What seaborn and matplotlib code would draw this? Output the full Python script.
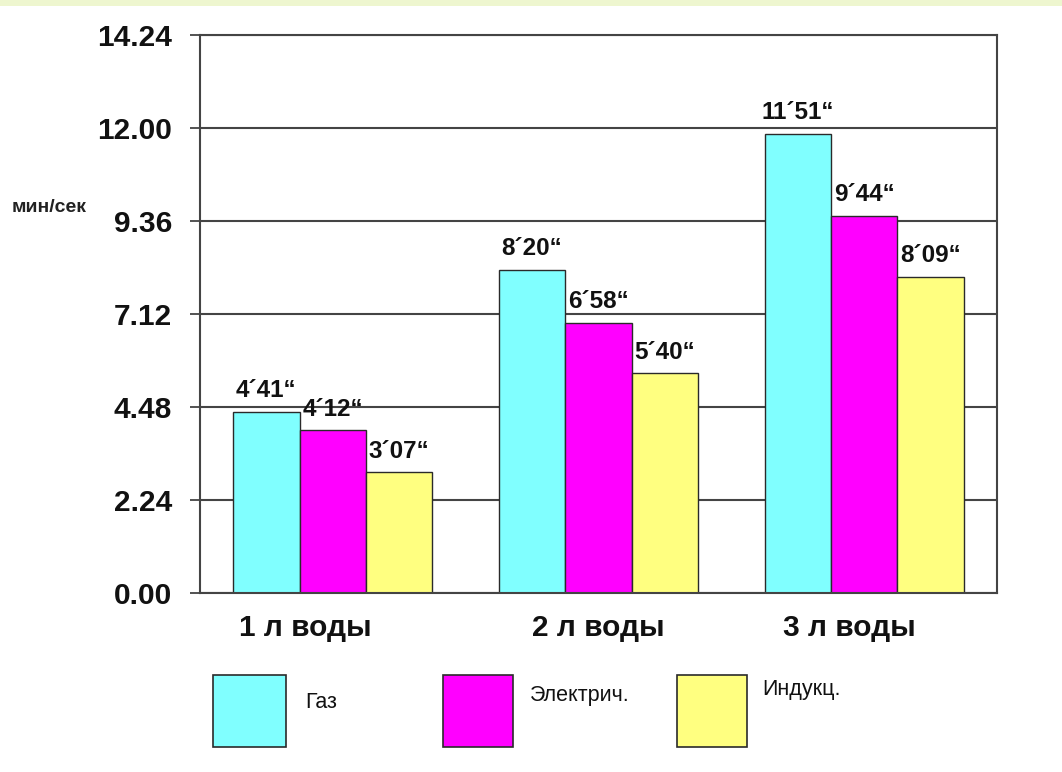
import matplotlib
matplotlib.use('Agg')
import matplotlib.pyplot as plt
import seaborn as sns
import pandas as pd
from matplotlib.patches import Rectangle

# ---- data ----
categories = ['1 л воды', '2 л воды', '3 л воды']
series = ['Газ', 'Электрич.', 'Индукц.']
gas_min = [4, 8, 11]
gas_sec = [41, 20, 51]
elec_min = [4, 6, 9]
elec_sec = [12, 58, 44]
induc_min = [3, 5, 8]
induc_sec = [7, 40, 9]
colors = ['#80FFFF', '#FF00FF', '#FFFF80']
ytick_values = [0, 2.4, 4.8, 7.2, 9.6, 12.0, 14.4]
ytick_labels = ['0.00', '2.24', '4.48', '7.12', '9.36', '12.00', '14.24']
y_unit = 'мин/сек'

mins = [gas_min, elec_min, induc_min]
secs = [gas_sec, elec_sec, induc_sec]
rows = []
for s, mm, ss in zip(series, mins, secs):
    for c, m, sc in zip(categories, mm, ss):
        rows.append({'cat': c, 'series': s, 'val': m + sc / 60.0,
                     'label': f"{m}\u00b4{sc:02d}\u201c"})
df = pd.DataFrame(rows)

sns.set_theme(style='white')
plt.rcParams['font.family'] = ['Liberation Sans', 'DejaVu Sans']

W, H = 1062, 772
fig = plt.figure(figsize=(W / 100, H / 100), dpi=100)
fig.patch.set_facecolor('white')
fig.patches.append(Rectangle((0, 1 - 6 / H), 1, 6 / H, transform=fig.transFigure,
                             facecolor='#EEF6CF', edgecolor='none'))

ax = fig.add_axes([200 / W, 1 - 593 / H, 797 / W, 558 / H])
sns.barplot(data=df, x='cat', y='val', hue='series', order=categories,
            hue_order=series, palette=colors, saturation=1, width=0.75,
            edgecolor='#2a2a2a', linewidth=1.0, ax=ax, legend=False, errorbar=None)

ax.set_xlim(-0.5, 2.5)
ax.set_ylim(0, 14.4)
ax.set_yticks(ytick_values)
ax.set_yticklabels(ytick_labels, fontsize=21.5, fontweight='bold', color='#111111')
ax.yaxis.grid(True, color='#444444', linewidth=1.5)
ax.xaxis.grid(False)
ax.set_axisbelow(True)

ax.set_xticks([-0.5, 0.5, 1.5, 2.5])
ax.set_xticklabels(['', '', '', ''])
ax.set_xticks([-0.105, 1, 1.944], minor=True)
ax.set_xticklabels(categories, minor=True, fontsize=21.5, fontweight='bold', color='#111111')
ax.tick_params(axis='x', which='minor', length=0, pad=15)
ax.tick_params(axis='x', which='major', direction='out', length=7, width=1.3, color='#444444')
ax.tick_params(axis='y', which='major', direction='out', length=7, width=1.3,
               color='#444444', pad=13, left=True)
ax.set_xlabel('')
ax.set_ylabel(y_unit, rotation=0, fontsize=14, fontweight='bold', color='#222222',
              ha='center', va='center')
ax.yaxis.set_label_coords((49 - 200) / 797, (593 - 208) / 558)

for sp in ax.spines.values():
    sp.set_visible(True)
    sp.set_color('#444444')
    sp.set_linewidth(1.5)

for cont, s in zip(ax.containers, series):
    labs = df[df['series'] == s].set_index('cat').loc[categories, 'label'].tolist()
    ax.bar_label(cont, labels=labs, padding=7, fontsize=17.5, fontweight='bold',
                 color='#111111')

# ---- legend drawn below the plot ----
box_x = [213, 443, 677]
box_w = [73, 70, 70]
text_x = [305, 530, 762]
text_y = [703, 695, 690]
for bx, bw, tx, ty, col, s in zip(box_x, box_w, text_x, text_y, colors, series):
    fig.patches.append(Rectangle((bx / W, 1 - 747 / H), bw / W, 72 / H,
                                 transform=fig.transFigure, facecolor=col,
                                 edgecolor='#2a2a2a', linewidth=1.2))
    fig.text(tx / W, 1 - ty / H, s, fontsize=15.5, color='#111111',
             ha='left', va='center')

fig.savefig('out.png', dpi=100, facecolor='white')
